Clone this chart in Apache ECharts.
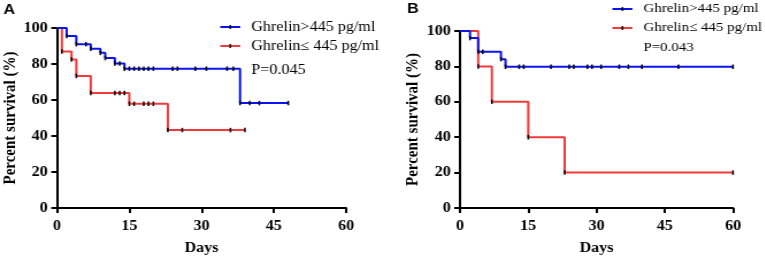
<!DOCTYPE html>
<html>
<head>
<meta charset="utf-8">
<script src="https://cdn.jsdelivr.net/npm/echarts@6/dist/echarts.min.js"></script>
<style>
  html, body { margin: 0; padding: 0; background: #fff; overflow: hidden; }
  /* the source figure is a bit stretched sideways, so draw narrow and scale */
  #main { width: 666px; height: 260px; transform: scaleX(1.15); transform-origin: 0 0; }
</style>
</head>
<body>
<div id="main"></div>
<script>
// Kaplan-Meier curves, [day, percent survival]; every point after the first gets a tick
const highA = [[0,100],[2,95.5],[4,91],[6,91],[7,88.5],[9,86.2],[10,83.3],[12,80.3],[13,80.3],[14,77.4],[15,77.4],[16,77.4],[17,77.4],[18,77.4],[19,77.4],[20,77.4],[24,77.4],[25,77.4],[28.7,77.4],[31,77.4],[35.3,77.4],[36.6,77.4],[38,58.3],[40,58.3],[42,58.3],[48,58.3]];
const lowA = [[0,100],[1,87],[3,82.5],[4,73.4],[7,63.9],[12,63.9],[13,63.9],[14,63.9],[15,57.9],[16,57.9],[18,57.9],[19,57.9],[20,57.9],[23,43.3],[26,43.3],[36,43.3],[39,43.3]];
const highB = [[0,100],[2.2,96],[4,88.3],[5,88.3],[9,84.1],[10,79.8],[13,79.8],[14,79.8],[20,79.8],[24,79.8],[25,79.8],[28,79.8],[29,79.8],[31,79.8],[35,79.8],[37,79.8],[40,79.8],[48,79.8],[60,79.8]];
const lowB = [[0,100],[4,80],[7,60],[15,40],[23,20],[60,20]];

const dayTicks = [0, 15, 30, 45, 60];
const pctTicks = [0, 20, 40, 60, 80, 100];
const names = ['Ghrelin>445 pg/ml', 'Ghrelin\u2264 445 pg/ml'];
const pValues = ['P=0.045', 'P=0.043'];

const serif = '"Liberation Serif", "Times New Roman", serif';
const blue = '#0a14f0';
const red = '#f23a3a';

const myChart = echarts.init(document.getElementById('main'));

function xAx(gi) {
    return {
        gridIndex: gi, type: 'value',
        min: dayTicks[0], max: dayTicks[dayTicks.length - 1], interval: 15,
        name: 'Days', nameLocation: 'middle', nameGap: 33,
        nameTextStyle: { fontFamily: serif, fontWeight: 'bold', fontSize: 14, color: '#000' },
        axisLine: { lineStyle: { color: '#000', width: 2 } },
        axisTick: { length: 5, lineStyle: { color: '#000', width: 2 } },
        axisLabel: { fontFamily: serif, fontWeight: 'bold', fontSize: 14, color: '#000', margin: 11 },
        splitLine: { show: false }
    };
}

function yAx(gi) {
    return {
        gridIndex: gi, type: 'value',
        min: pctTicks[0], max: pctTicks[pctTicks.length - 1], interval: 20,
        name: 'Percent survival (%)', nameLocation: 'middle', nameGap: 28,
        nameTextStyle: { fontFamily: serif, fontWeight: 'bold', fontSize: 15, color: '#000' },
        axisLine: { show: true, lineStyle: { color: '#000', width: 2 } },
        axisTick: { show: true, length: 5, lineStyle: { color: '#000', width: 2 } },
        axisLabel: { fontFamily: serif, fontWeight: 'bold', fontSize: 14, color: '#000', margin: 8 },
        splitLine: { show: false }
    };
}

function curve(name, pts, color, gi) {
    return {
        name, type: 'line', step: 'end',
        xAxisIndex: gi, yAxisIndex: gi,
        symbol: 'rect', symbolSize: [1.5, 4.5],
        showSymbol: true,
        itemStyle: { color: '#000' },
        lineStyle: { color, width: 2 },
        data: pts.map((p, i) => i === 0 ? { value: p, symbol: 'none' } : p),
        z: color === blue ? 3 : 2
    };
}

// hand-drawn legend: coloured line with a small black tick, then the label
function legendRows(x, y, pText, pOff, fs) {
    const els = [];
    [blue, red].forEach((c, i) => {
        const cy = y + i * 19;
        els.push({ type: 'line', shape: { x1: x, y1: cy, x2: x + 17.4, y2: cy }, style: { stroke: c, lineWidth: 2 } });
        els.push({ type: 'rect', shape: { x: x + 8, y: cy - 2, width: 1.4, height: 4 }, style: { fill: '#000' } });
        els.push({ type: 'text', x: x + 27, y: cy, style: { text: names[i], font: fs + 'px ' + serif, fill: '#000', verticalAlign: 'middle' } });
    });
    els.push({ type: 'text', x: x + 27, y: y + pOff, style: { text: pText, font: fs + 'px ' + serif, fill: '#000', verticalAlign: 'middle' } });
    return els;
}

const option = {
    animation: false,
    grid: [
        { left: 49.6, top: 28, width: 251.3, height: 183 },
        { left: 400, top: 31, width: 237.4, height: 182 }
    ],
    xAxis: [xAx(0), xAx(1)],
    yAxis: [yAx(0), yAx(1)],
    graphic: [
        { type: 'text', left: 3, top: 3, style: { text: 'A', font: 'bold 14px "Liberation Sans", Arial, sans-serif', fill: '#000' } },
        { type: 'text', left: 354, top: 2, style: { text: 'B', font: 'bold 14px "Liberation Sans", Arial, sans-serif', fill: '#000' } }
    ].concat(legendRows(191.5, 27, pValues[0], 43, 14), legendRows(532.5, 9, pValues[1], 39, 13)),
    series: [
        curve(names[0], highA, blue, 0),
        curve(names[1], lowA, red, 0),
        curve(names[0], highB, blue, 1),
        curve(names[1], lowB, red, 1)
    ]
};

option && myChart.setOption(option);
</script>
</body>
</html>
